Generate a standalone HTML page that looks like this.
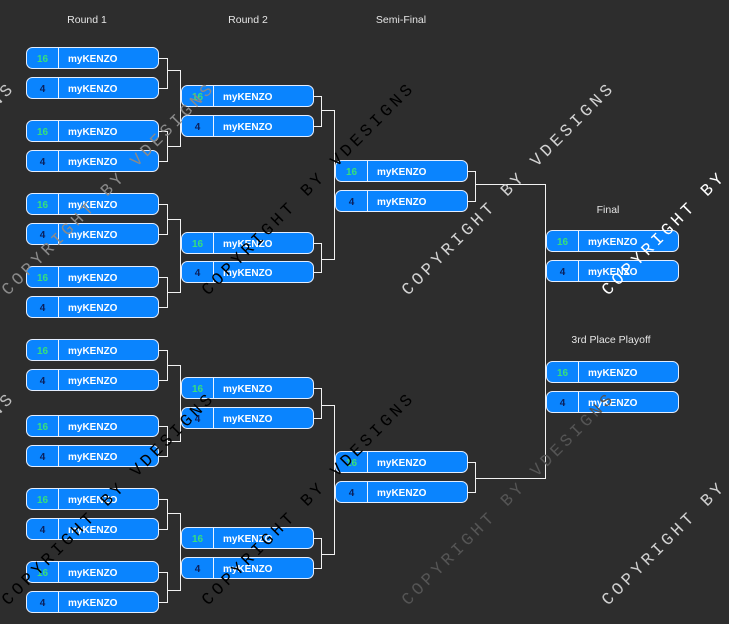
<!DOCTYPE html>
<html><head><meta charset="utf-8"><style>
html,body{margin:0;padding:0;background:#2d2d2d;}
svg{display:block;}
.lbl{font-family:"Liberation Sans",sans-serif;font-size:10.5px;fill:#e6e6e6;text-anchor:middle;}
.num{font-family:"Liberation Sans",sans-serif;font-size:10px;font-weight:bold;text-anchor:middle;}
.nm{font-family:"Liberation Sans",sans-serif;font-size:10px;font-weight:bold;fill:#fff;}
.wm{font-family:"Liberation Mono",monospace;font-size:17px;letter-spacing:3.8px;}
</style></head><body>
<svg width="729" height="624" viewBox="0 0 729 624" xmlns="http://www.w3.org/2000/svg">
<rect width="729" height="624" fill="#2d2d2d"/>
<text class="lbl" x="87" y="23">Round 1</text>
<text class="lbl" x="248" y="23">Round 2</text>
<text class="lbl" x="401" y="23">Semi-Final</text>
<text class="lbl" x="608" y="213">Final</text>
<text class="lbl" x="611" y="343">3rd Place Playoff</text>

<g stroke="#f2f2f2" stroke-width="1" fill="none">
<path d="M159 58.5H167.5V88.5H159 M167.5 70.5H180.5"/>
<path d="M159 131.5H167.5V161.5H159 M167.5 146.5H180.5"/>
<path d="M159 204.5H167.5V234.5H159 M167.5 219.5H180.5"/>
<path d="M159 277.5H167.5V307.5H159 M167.5 292.5H180.5"/>
<path d="M159 350.5H167.5V380.5H159 M167.5 365.5H180.5"/>
<path d="M159 426.5H167.5V456.5H159 M167.5 441.5H180.5"/>
<path d="M159 499.5H167.5V529.5H159 M167.5 513.5H180.5"/>
<path d="M159 572.5H167.5V602.5H159 M167.5 590.5H180.5"/>
<path d="M180.5 70V147 M180.5 219V293 M180.5 365V442 M180.5 513V591"/>
<path d="M313 96.5H321.5V126.5H313 M321.5 110.5H334.5"/>
<path d="M313 243.5H321.5V272.5H313 M321.5 259.5H334.5"/>
<path d="M313 388.5H321.5V418.5H313 M321.5 405.5H334.5"/>
<path d="M313 538.5H321.5V568.5H313 M321.5 554.5H334.5"/>
<path d="M334.5 110V260 M334.5 405V555"/>
<path d="M467 171.5H475.5V201.5H467 M475.5 184.5H545.5"/>
<path d="M467 462.5H475.5V492.5H467 M475.5 478.5H545.5"/>
<path d="M545.5 184V479"/>
</g>

<defs>
<g id="b16">
<rect x="0.5" y="0.5" width="132" height="21" rx="6" ry="6" fill="#0a84fe" stroke="#e4eeff" stroke-width="1"/>
<line x1="32.5" y1="1" x2="32.5" y2="21" stroke="#eaf2ff" stroke-width="1"/>
<text class="num" x="16.5" y="15" fill="#37df7c">16</text>
<text class="nm" x="42" y="15">myKENZO</text>
</g>
<g id="b4">
<rect x="0.5" y="0.5" width="132" height="21" rx="6" ry="6" fill="#0a84fe" stroke="#e4eeff" stroke-width="1"/>
<line x1="32.5" y1="1" x2="32.5" y2="21" stroke="#eaf2ff" stroke-width="1"/>
<text class="num" x="16.5" y="15" fill="#0b1f5a">4</text>
<text class="nm" x="42" y="15">myKENZO</text>
</g>
</defs>

<use href="#b16" x="26" y="47"/><use href="#b4" x="26" y="77"/>
<use href="#b16" x="26" y="120"/><use href="#b4" x="26" y="150"/>
<use href="#b16" x="26" y="193"/><use href="#b4" x="26" y="223"/>
<use href="#b16" x="26" y="266"/><use href="#b4" x="26" y="296"/>
<use href="#b16" x="26" y="339"/><use href="#b4" x="26" y="369"/>
<use href="#b16" x="26" y="415"/><use href="#b4" x="26" y="445"/>
<use href="#b16" x="26" y="488"/><use href="#b4" x="26" y="518"/>
<use href="#b16" x="26" y="561"/><use href="#b4" x="26" y="591"/>
<use href="#b16" x="181" y="85"/><use href="#b4" x="181" y="115"/>
<use href="#b16" x="181" y="232"/><use href="#b4" x="181" y="261"/>
<use href="#b16" x="181" y="377"/><use href="#b4" x="181" y="407"/>
<use href="#b16" x="181" y="527"/><use href="#b4" x="181" y="557"/>
<use href="#b16" x="335" y="160"/><use href="#b4" x="335" y="190"/>
<use href="#b16" x="335" y="451"/><use href="#b4" x="335" y="481"/>
<use href="#b16" x="546" y="230"/><use href="#b4" x="546" y="260"/>
<use href="#b16" x="546" y="361"/><use href="#b4" x="546" y="391"/>

<g class="wm">
<text transform="translate(-192,296) rotate(-45)" fill="#c8c8c8">COPYRIGHT BY VDESIGNS</text>
<text transform="translate(8,296) rotate(-45)" fill="#8a8a8a">COPYRIGHT BY VDESIGNS</text>
<text transform="translate(208,296) rotate(-45)" fill="#000">COPYRIGHT BY VDESIGNS</text>
<text transform="translate(408,296) rotate(-45)" fill="#d2d2d2">COPYRIGHT BY VDESIGNS</text>
<text transform="translate(608,296) rotate(-45)" fill="#ffffff">COPYRIGHT BY VDESIGNS</text>
<text transform="translate(-192,606) rotate(-45)" fill="#bcbcbc">COPYRIGHT BY VDESIGNS</text>
<text transform="translate(8,606) rotate(-45)" fill="#000">COPYRIGHT BY VDESIGNS</text>
<text transform="translate(208,606) rotate(-45)" fill="#000">COPYRIGHT BY VDESIGNS</text>
<text transform="translate(408,606) rotate(-45)" fill="#555555">COPYRIGHT BY VDESIGNS</text>
<text transform="translate(608,606) rotate(-45)" fill="#d0d0d0">COPYRIGHT BY VDESIGNS</text>
</g>
</svg>
</body></html>
